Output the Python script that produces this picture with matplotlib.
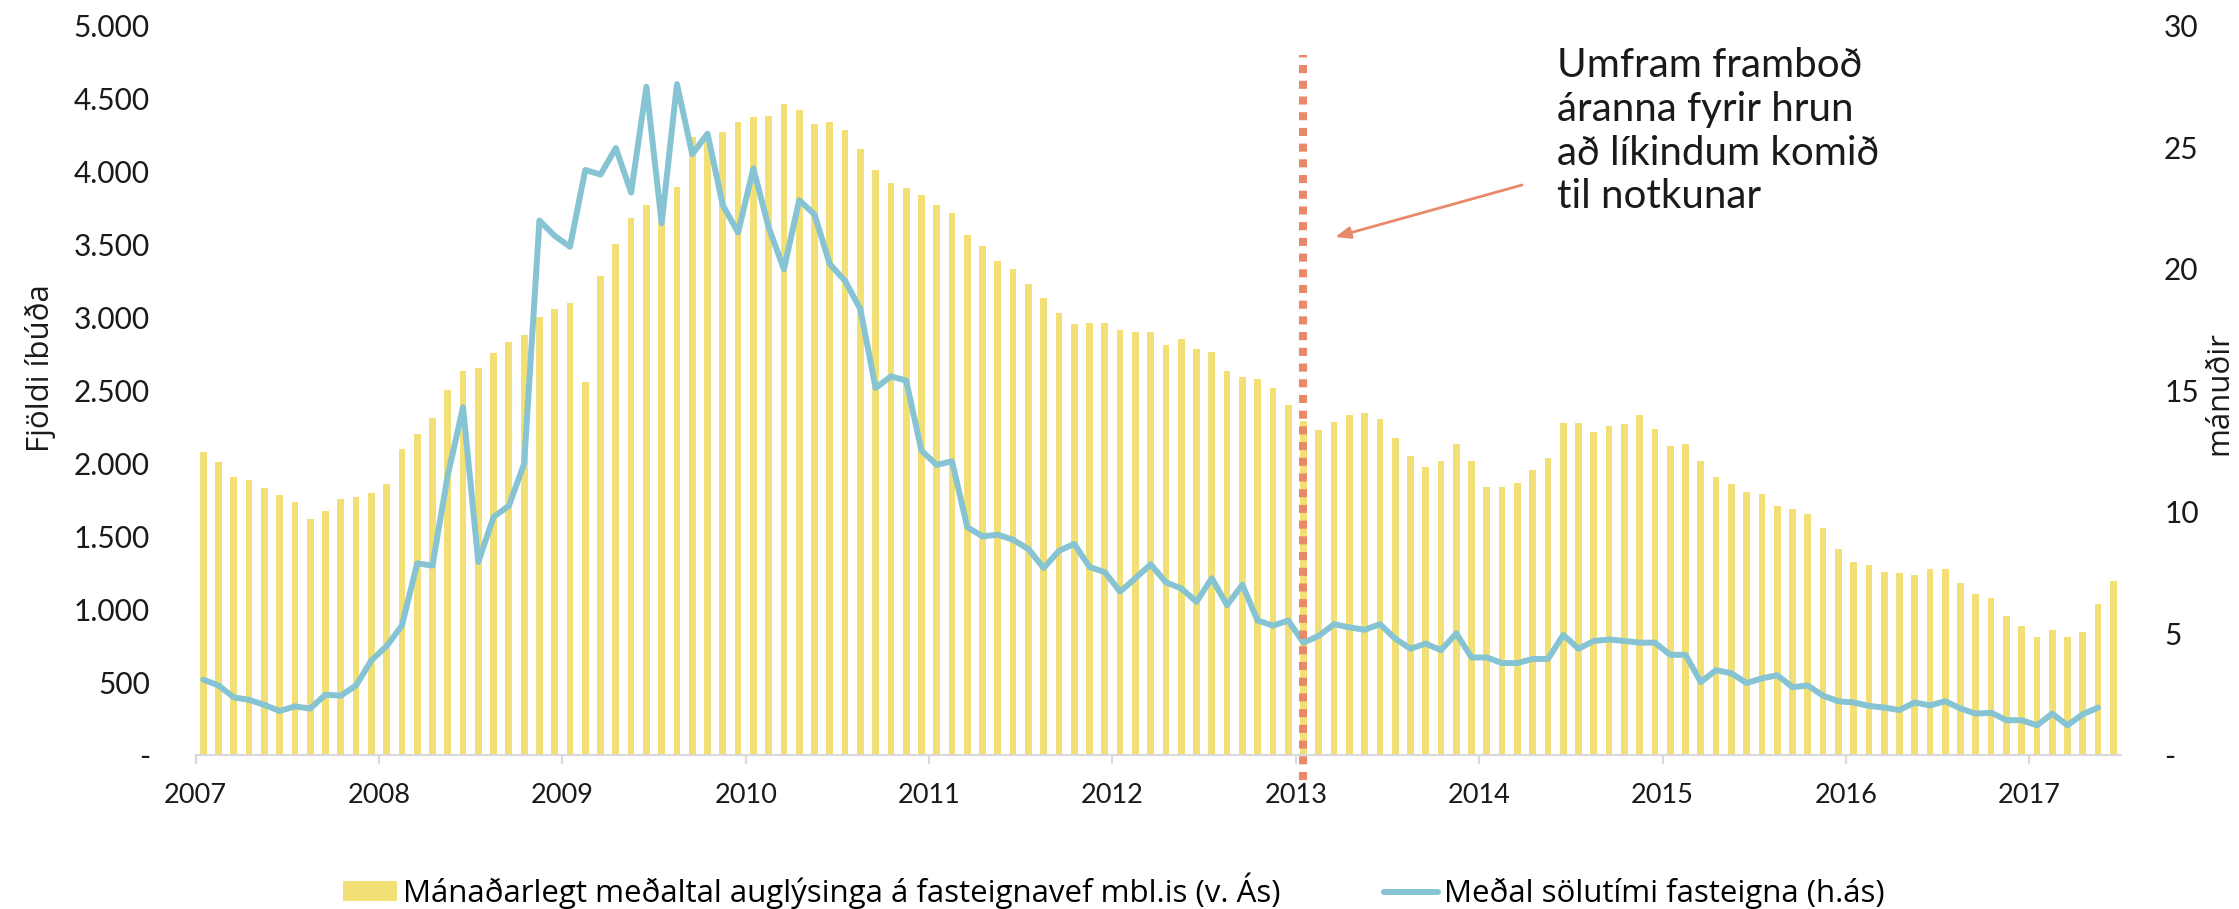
import matplotlib
matplotlib.use("Agg")
import matplotlib.pyplot as plt
import matplotlib.font_manager as fm
from matplotlib.patches import Patch
from matplotlib.lines import Line2D

# ---------------- data ----------------
year_labels = ["2007", "2008", "2009", "2010", "2011", "2012", "2013", "2014", "2015", "2016", "2017"]

# Monthly average number of listings on mbl.is (left axis), Jan 2007 - Jun 2017
listings = [
    2076, 2006, 1908, 1884, 1828, 1779, 1737, 1617, 1674, 1758, 1768, 1796,   # 2007
    1856, 2097, 2199, 2311, 2500, 2629, 2650, 2752, 2829, 2878, 3000, 3056,   # 2008
    3098, 2559, 3280, 3501, 3683, 3771, 3650, 3890, 4236, 4250, 4271, 4341,   # 2009
    4376, 4383, 4464, 4422, 4324, 4341, 4282, 4152, 4012, 3921, 3883, 3841,   # 2010
    3771, 3718, 3561, 3490, 3389, 3333, 3231, 3130, 3032, 2951, 2962, 2962,   # 2011
    2916, 2899, 2899, 2811, 2850, 2780, 2759, 2629, 2591, 2580, 2517, 2398,   # 2012
    2290, 2227, 2279, 2328, 2346, 2300, 2171, 2048, 1971, 2017, 2129, 2017,   # 2013
    1835, 1835, 1866, 1950, 2038, 2276, 2276, 2216, 2258, 2269, 2328, 2237,   # 2014
    2118, 2129, 2017, 1908, 1856, 1800, 1786, 1708, 1688, 1649, 1558, 1414,   # 2015
    1323, 1299, 1253, 1246, 1236, 1278, 1278, 1176, 1106, 1078, 956, 886,     # 2016
    812, 854, 812, 844, 1036, 1194,                                           # 2017
]

# Average time on market in months (right axis), Jan 2007 - May 2017
sale_time = [
    3.10, 2.86, 2.37, 2.27, 2.06, 1.81, 2.00, 1.91, 2.48, 2.44, 2.86, 3.89,        # 2007
    4.48, 5.32, 7.88, 7.79, 11.50, 14.30, 7.94, 9.79, 10.25, 11.98, 21.98, 21.35,  # 2008
    20.90, 24.06, 23.87, 24.96, 23.13, 27.48, 21.87, 27.59, 24.71, 25.55, 22.61, 21.49,  # 2009
    24.12, 21.70, 19.98, 22.82, 22.23, 20.19, 19.50, 18.34, 15.09, 15.57, 15.40, 12.52,  # 2010
    11.93, 12.08, 9.37, 8.99, 9.06, 8.85, 8.47, 7.69, 8.40, 8.68, 7.73, 7.52,      # 2011
    6.72, 7.27, 7.84, 7.10, 6.85, 6.30, 7.27, 6.16, 7.00, 5.53, 5.32, 5.53,        # 2012
    4.62, 4.90, 5.38, 5.25, 5.15, 5.38, 4.79, 4.37, 4.58, 4.31, 5.00, 4.01,        # 2013
    4.01, 3.78, 3.78, 3.95, 3.95, 4.94, 4.37, 4.69, 4.75, 4.69, 4.62, 4.62,        # 2014
    4.12, 4.12, 3.00, 3.49, 3.36, 2.96, 3.15, 3.28, 2.79, 2.86, 2.44, 2.21,        # 2015
    2.16, 2.02, 1.95, 1.85, 2.16, 2.04, 2.21, 1.91, 1.70, 1.74, 1.43, 1.43,        # 2016
    1.22, 1.70, 1.22, 1.68, 1.95,                                                   # 2017
]

left_ticks = [0, 500, 1000, 1500, 2000, 2500, 3000, 3500, 4000, 4500, 5000]
right_ticks = [0, 5, 10, 15, 20, 25, 30]
marker_year = "2013"   # vertical marker at January of this year

legend_bar = "Mánaðarlegt meðaltal auglýsinga á fasteignavef mbl.is (v. Ás)"
legend_line = "Meðal sölutími fasteigna (h.ás)"
annotation = "Umfram framboð\náranna fyrir hrun\nað líkindum komið\ntil notkunar"

# ---------------- style ----------------
BAR = "#F2DF75"
LINE = "#86C4D4"
RED = "#E8896A"
AXIS = "#D9D9D9"
TXT = "#1A1A1A"

SIDE = ["Open Sans", "DejaVu Sans"]
SIDE_SIZE = 22.5
MAIN = ["Lato", "DejaVu Sans"]

plt.rcParams["font.family"] = MAIN

fig = plt.figure(figsize=(22.39, 9.09), dpi=100)
L, R, B, T = 195.6 / 2239, 2121 / 2239, 1 - 755 / 909, 1 - 25.5 / 909
ax = fig.add_axes([L, B, R - L, T - B])
ax2 = ax.twinx()

n = len(listings)
xb = [i + 0.5 for i in range(n)]
ax.bar(xb, listings, width=0.44, color=BAR, zorder=2)
xl = [i + 0.5 for i in range(len(sale_time))]
ax2.plot(xl, sale_time, color=LINE, lw=4.3, solid_joinstyle="round", solid_capstyle="round", zorder=3)

ax.set_xlim(0, n)
ax.set_ylim(0, 5000)
ax2.set_ylim(0, 30)

# x ticks at year boundaries
ax.set_xticks([12 * k for k in range(len(year_labels))])
ax.set_xticklabels(year_labels)
ax.tick_params(axis="x", length=6.5, width=1.5, color=AXIS, pad=14, labelsize=19.5, labelcolor=TXT)

def fmt_left(v):
    return "-" if v == 0 else f"{v:,}".replace(",", ".")

ax.set_yticks(left_ticks)
ax.set_yticklabels([fmt_left(v) for v in left_ticks])
ax.tick_params(axis="y", length=0, pad=33, labelsize=21.5, labelcolor=TXT)
ax2.set_yticks(right_ticks)
ax2.set_yticklabels(["-" if v == 0 else str(v) for v in right_ticks])
ax2.tick_params(axis="y", length=0, pad=31, labelsize=21.5, labelcolor=TXT)

for a in (ax, ax2):
    for s in ("top", "left", "right", "bottom"):
        a.spines[s].set_visible(False)
ax.spines["bottom"].set_visible(True)
ax.spines["bottom"].set_color(AXIS)
ax.spines["bottom"].set_linewidth(1.5)
ax.patch.set_visible(False)

ax.set_ylabel("Fjöldi íbúða", family=SIDE, fontsize=SIDE_SIZE, color=TXT)
ax.yaxis.set_label_coords(-0.0725, 0.53)
ax2.set_ylabel("mánuðir", family=SIDE, fontsize=SIDE_SIZE, color=TXT, rotation=90)
ax2.yaxis.set_label_coords(1.0435, 0.496)

# vertical dotted marker at Jan of marker year
mx = year_labels.index(marker_year) * 12 + 0.5
ax2.plot([mx, mx], [-1.02, 28.8], color=RED, lw=5.8, linestyle=(0, (1.0, 0.95)),
         solid_capstyle="butt", dash_capstyle="butt", zorder=5, clip_on=False)

# annotation text + arrow
ax2.text(89.1, 29.1, annotation, fontsize=29, color=TXT, va="top", ha="left",
         linespacing=1.22)
ax2.annotate("", xy=(74.57, 21.3), xytext=(86.8, 23.44),
             arrowprops=dict(arrowstyle="-|>,head_length=0.9,head_width=0.35", color=RED, lw=2.0,
                             shrinkA=0, shrinkB=0), zorder=6)

# legend
handles = [Patch(facecolor=BAR, edgecolor="none"),
           Line2D([0], [0], color=LINE, lw=4.3, solid_capstyle="round")]
fig.legend(handles, [legend_bar, legend_line], loc="center left",
           bbox_to_anchor=(343 / 2239, 1 - 891 / 909), ncol=2, frameon=False,
           prop=fm.FontProperties(family=SIDE, size=SIDE_SIZE),
           handlelength=1.73, handleheight=0.61, handletextpad=0.19, columnspacing=3.3,
           borderpad=0, borderaxespad=0)

fig.savefig("out.png", dpi=100)
